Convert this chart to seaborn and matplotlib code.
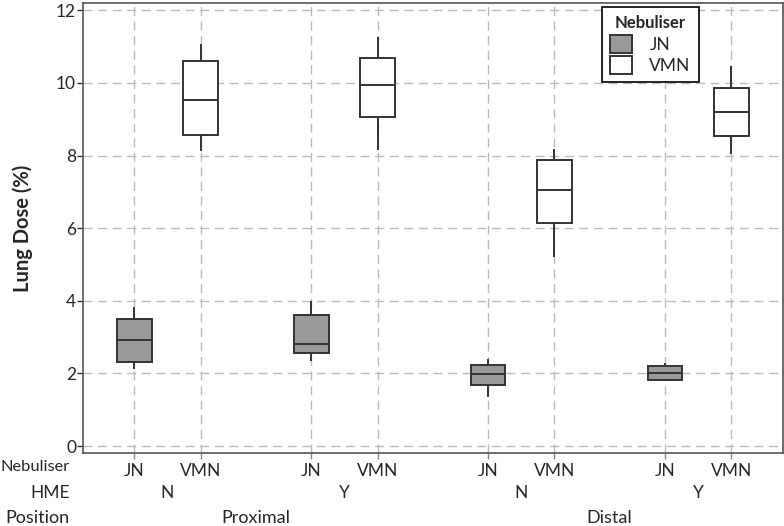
import pandas as pd
import seaborn as sns
import matplotlib.pyplot as plt
from matplotlib.transforms import blended_transform_factory

# group layout: position x HME, then nebuliser as hue
positions = ["Proximal", "Proximal", "Distal", "Distal"]
hme = ["N", "Y", "N", "Y"]
nebulisers = ["JN", "VMN"]

# five values per box: low whisker, q1, median, q3, high whisker
jn_dose = [
    [2.11, 2.32, 2.91, 3.50, 3.83],
    [2.35, 2.55, 2.80, 3.60, 4.00],
    [1.35, 1.68, 1.99, 2.24, 2.40],
    [1.80, 1.83, 2.00, 2.20, 2.28],
]
vmn_dose = [
    [8.12, 8.57, 9.53, 10.61, 11.06],
    [8.16, 9.06, 9.93, 10.69, 11.26],
    [5.21, 6.15, 7.06, 7.88, 8.19],
    [8.05, 8.54, 9.21, 9.85, 10.46],
]

groups = [p + " " + h for p, h in zip(positions, hme)]
rows = []
for i, g in enumerate(groups):
    for neb, vals in zip(nebulisers, [jn_dose[i], vmn_dose[i]]):
        for v in vals:
            rows.append({"group": g, "nebuliser": neb, "dose": v})
df = pd.DataFrame(rows)

sns.set_theme(style="ticks")
plt.rcParams['font.family'] = ['Lato', 'DejaVu Sans']

fig = plt.figure(figsize=(7.84, 5.26), dpi=100)
ax = fig.add_axes([0.1059, 0.1388, 0.8928, 0.8555])

width = 0.75
sns.boxplot(data=df, x="group", y="dose", hue="nebuliser", order=groups,
            hue_order=nebulisers, palette={"JN": "#999999", "VMN": "white"},
            width=width, gap=0.477, linecolor="#333333", linewidth=1.4,
            showcaps=False, showfliers=False, ax=ax)

# ticks at every box
off = width / 4
xt, xl = [], []
for i in range(len(groups)):
    xt += [i - off, i + off]
    xl += nebulisers
ax.set_xticks(xt)
ax.set_xticklabels(xl, fontsize=12.5)
ax.set_xlim(-0.478, 3.48)
ax.set_ylim(-0.19, 12.2)
ax.set_yticks(range(0, 13, 2))
ax.tick_params(axis="y", labelsize=12.5, length=4, width=1, color="#333333", pad=1)
ax.tick_params(axis="x", length=4, width=1, color="#888888", pad=3)

ax.grid(True, linestyle=(0, (6.5, 4)), color="#bbbbbb", linewidth=1)
ax.set_axisbelow(True)
for s in ax.spines.values():
    s.set_color("#555555")
    s.set_linewidth(1.2)

ax.set_xlabel("")
ax.set_ylabel("Lung Dose (%)", fontsize=14.5, fontweight="bold")
ax.yaxis.set_label_coords(-0.072, 0.5)

# extra label rows under the axis
tr = blended_transform_factory(ax.transData, ax.transAxes)
for i, h in enumerate(hme):
    ax.text(i, -0.089, h, transform=tr, ha="center", va="center", fontsize=12.5)
for j, p in enumerate(["Proximal", "Distal"]):
    ax.text(2 * j + 0.5, -0.144, p, transform=tr, ha="center", va="center", fontsize=13)

fig.text(0.089, (526 - 467) / 526, "Nebuliser", ha="right", va="center", fontsize=11.8)
fig.text(0.089, (526 - 493) / 526, "HME", ha="right", va="center", fontsize=12.5)
fig.text(0.089, (526 - 518) / 526, "Position", ha="right", va="center", fontsize=13)

leg = ax.legend(title="Nebuliser", loc="upper left", bbox_to_anchor=(0.741, 0.99),
                fancybox=False, framealpha=1, edgecolor="black", fontsize=12.5,
                title_fontproperties={"weight": "bold", "size": 12},
                handlelength=1.3, handleheight=1.2, borderpad=0.45,
                labelspacing=0.2, handletextpad=1.0, borderaxespad=0)
leg.get_frame().set_linewidth(1.2)

fig.savefig("out.png", dpi=100)
